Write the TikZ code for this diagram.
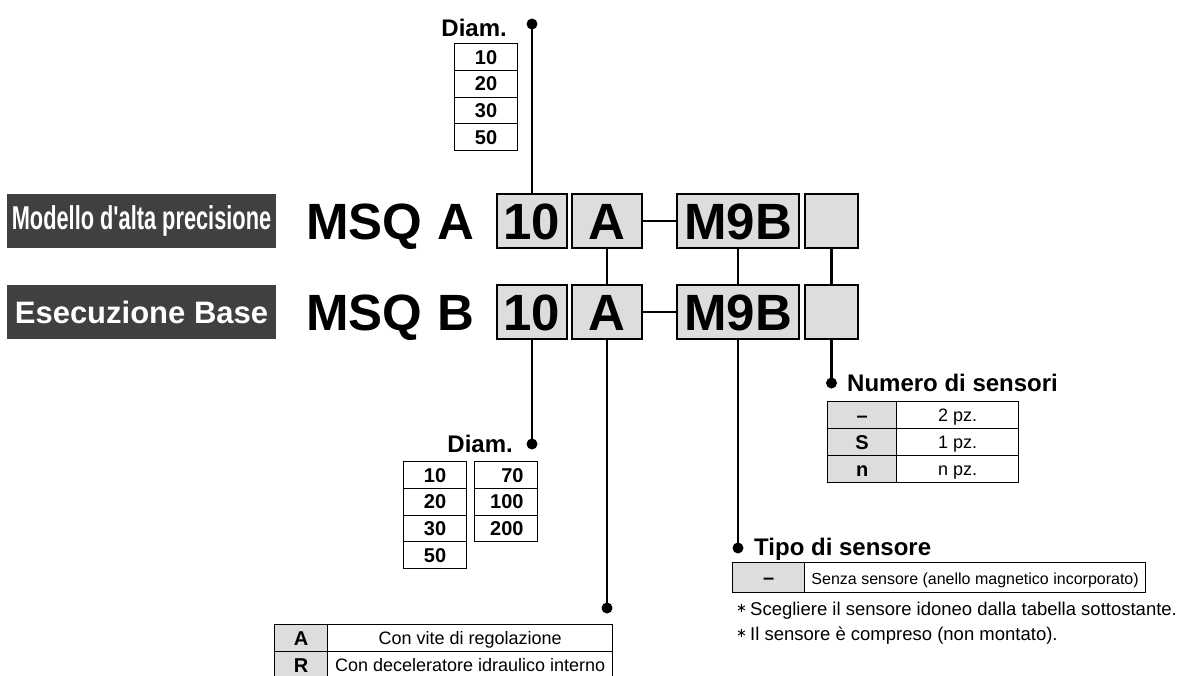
\documentclass[tikz,border=0pt]{standalone}
\usepackage{fontspec}
\setmainfont{Liberation Sans}
\newfontfamily\djv{DejaVu Sans}
\usepackage{graphicx}
\definecolor{labelgray}{HTML}{404040}
\definecolor{boxgray}{HTML}{DDDDDD}
\tikzset{
  lbl/.style={fill=labelgray, text=white, minimum width=269pt, minimum height=54pt, inner sep=0pt,
    font=\fontsize{31}{36}\selectfont\bfseries},
  codebox/.style={draw, line width=2pt, fill=boxgray, minimum height=54pt, inner sep=0pt,
    font=\fontsize{51}{60}\selectfont\bfseries, text height=36.5pt, text depth=0pt},
  big/.style={font=\fontsize{51}{60}\selectfont\bfseries, inner sep=0pt, anchor=base west},
  cell/.style={draw, line width=1.2pt, inner sep=0pt, anchor=north west,
    font=\fontsize{20}{24}\selectfont\bfseries, text height=14.3pt, text depth=0pt},
  gcell/.style={cell, fill=boxgray},
  tcell/.style={cell, font=\fontsize{18}{22}\selectfont, text height=13pt},
  head/.style={font=\fontsize{24}{28}\selectfont\bfseries, inner sep=0pt},
  note/.style={font=\fontsize{18.5}{22}\selectfont, inner sep=0pt, anchor=base west},
  conn/.style={line width=2.4pt},
  dotnode/.style={circle, fill=black, inner sep=0pt, minimum size=11pt},
}
\newcommand{\noteast}{\raisebox{2.5pt}{\djv\fontsize{13}{13}\selectfont ∗}\,}
\begin{document}
\begin{tikzpicture}[x=1pt,y=-1pt]
\useasboundingbox (0,0) rectangle (1178,675);
\clip (0,0) rectangle (1178,675);

% row labels
\node[lbl, font=\fontsize{33}{38}\selectfont\bfseries] (L1) at (141.5,221) {\scalebox{0.66}[1]{Modello d\textquotesingle alta precisione}};
\node[lbl] (L2) at (141.5,312) {Esecuzione Base};

% model codes
\node[big] (m1) at (306,239) {MSQ};
\node[big] (s1) at (437,239) {A};
\node[big] (m2) at (306,330) {MSQ};
\node[big] (s2) at (437,330) {B};

% code boxes row 1
\node[codebox, minimum width=70pt]  (b10a) at (532,221) {10};
\node[codebox, minimum width=70pt]  (bAa)  at (607,221) {A};
\node[codebox, minimum width=122pt] (bMa)  at (738,221) {M9B};
\node[codebox, minimum width=53pt]  (bEa)  at (831.5,221) {};
% code boxes row 2
\node[codebox, minimum width=70pt]  (b10b) at (532,312) {10};
\node[codebox, minimum width=70pt]  (bAb)  at (607,312) {A};
\node[codebox, minimum width=122pt] (bMb)  at (738,312) {M9B};
\node[codebox, minimum width=53pt]  (bEb)  at (831.5,312) {};

% connectors between boxes
\draw[conn] (bAa.east) -- (bMa.west);
\draw[conn] (bAb.east) -- (bMb.west);
\draw[conn] (bAa.south) -- (bAb.north);
\draw[conn] (bMa.south) -- (bMb.north);
\draw[conn] (bEa.south) -- (bEb.north);

% dots and leaders
\node[dotnode] (d1) at (532,24) {};
\node[dotnode] (d2) at (532,444) {};
\node[dotnode] (d3) at (607,608) {};
\node[dotnode] (d4) at (738,548) {};
\node[dotnode] (d5) at (831.5,383) {};
\draw[conn] (b10a.north) -- (d1.center);
\draw[conn] (b10b.south) -- (d2.center);
\draw[conn] (bAb.south) -- (d3.center);
\draw[conn] (bMb.south) -- (d4.center);
\draw[conn] (bEb.south) -- (d5.center);

% top Diam. table
\node[head, anchor=base east] (h1) at (507,36) {Diam.};
\node[cell, minimum width=63pt, minimum height=26.75pt] (t1) at (454,43) {10};
\node[cell, minimum width=63pt, minimum height=26.75pt] (t2) at (454,69.75) {20};
\node[cell, minimum width=63pt, minimum height=26.75pt] (t3) at (454,96.5) {30};
\node[cell, minimum width=63pt, minimum height=26.75pt] (t4) at (454,123.25) {50};

% bottom Diam. tables
\node[head, anchor=base east] (h2) at (513,452) {Diam.};
\node[cell, minimum width=63pt, minimum height=26.75pt] (u1) at (403,461) {10};
\node[cell, minimum width=63pt, minimum height=26.75pt] (u2) at (403,487.75) {20};
\node[cell, minimum width=63pt, minimum height=26.75pt] (u3) at (403,514.5) {30};
\node[cell, minimum width=63pt, minimum height=26.75pt] (u4) at (403,541.25) {50};
\node[cell, minimum height=26.75pt, text width=35pt, align=right, inner xsep=14pt] (v1) at (474,461) {70};
\node[cell, minimum height=26.75pt, text width=35pt, align=right, inner xsep=14pt] (v2) at (474,487.75) {100};
\node[cell, minimum height=26.75pt, text width=35pt, align=right, inner xsep=14pt] (v3) at (474,514.5) {200};

% A / R table
\node[gcell, minimum width=53pt, minimum height=27pt] (a1) at (274,624) {A};
\node[tcell, minimum width=285pt, minimum height=27pt] (a2) at (327,624) {Con vite di regolazione};
\node[gcell, minimum width=53pt, minimum height=27pt] (r1) at (274,651) {R};
\node[tcell, minimum width=285pt, minimum height=27pt] (r2) at (327,651) {Con deceleratore idraulico interno};

% Numero di sensori
\node[head, anchor=base west] (h3) at (847,391) {Numero di sensori};
\node[gcell, minimum width=69pt, minimum height=27pt] (n1) at (827,401) {\textendash};
\node[tcell, minimum width=122pt, minimum height=27pt] (n2) at (896,401) {2 pz.};
\node[gcell, minimum width=69pt, minimum height=27pt] (n3) at (827,428) {S};
\node[tcell, minimum width=122pt, minimum height=27pt] (n4) at (896,428) {1 pz.};
\node[gcell, minimum width=69pt, minimum height=27pt] (n5) at (827,455) {n};
\node[tcell, minimum width=122pt, minimum height=27pt] (n6) at (896,455) {n pz.};

% Tipo di sensore
\node[head, anchor=base west] (h4) at (754,555) {Tipo di sensore};
\node[gcell, minimum width=72pt, minimum height=30pt] (p1) at (732,562) {\textendash};
\node[tcell, minimum width=341pt, minimum height=30pt, font=\fontsize{16}{20}\selectfont] (p2) at (804,562) {Senza sensore (anello magnetico incorporato)};

% notes
\node[note] (nt1) at (736,615) {\noteast Scegliere il sensore idoneo dalla tabella sottostante.};
\node[note] (nt2) at (736,640) {\noteast Il sensore è compreso (non montato).};
\end{tikzpicture}
\end{document}
